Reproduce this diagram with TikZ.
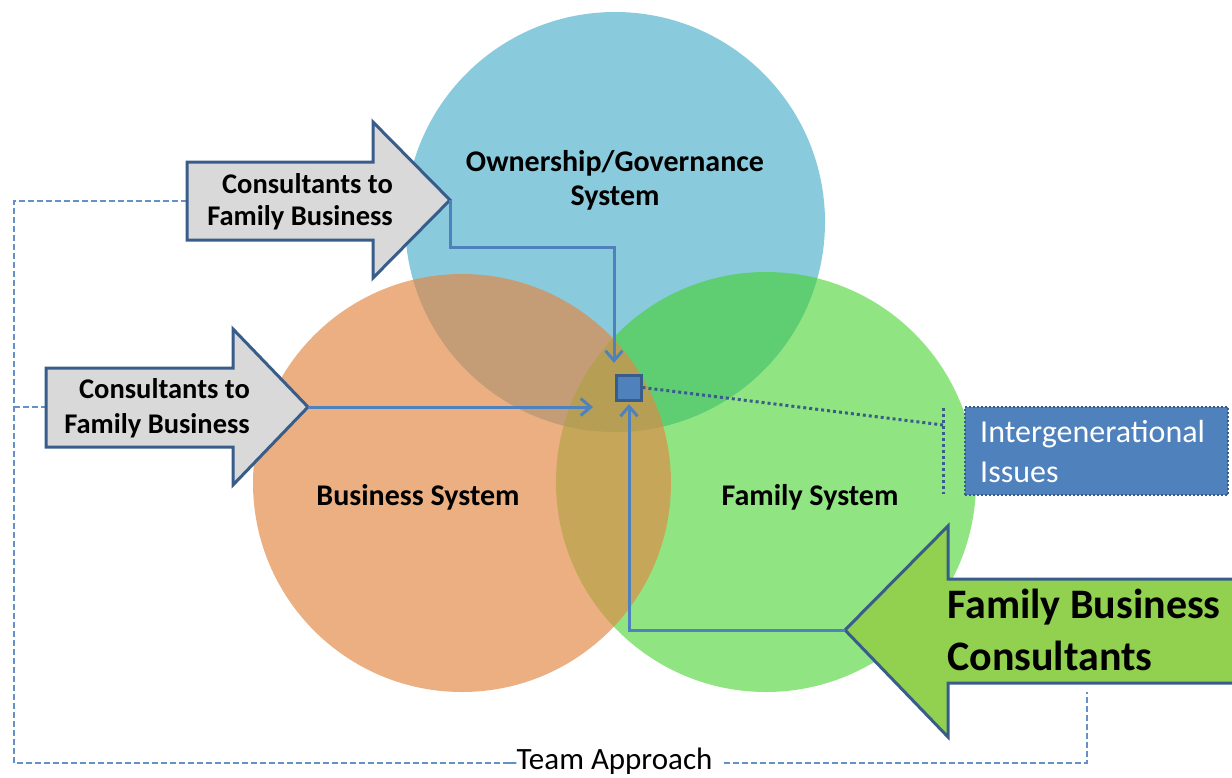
\documentclass[tikz,border=0pt]{standalone}
\usepackage{fontspec}
\setmainfont{Carlito}
\usetikzlibrary{arrows.meta}
\definecolor{cblue}{RGB}{137,202,220}
\definecolor{corange}{RGB}{225,136,69}
\definecolor{cgreen}{RGB}{65,209,40}
\definecolor{accent}{RGB}{79,129,189}
\definecolor{edge}{RGB}{56,93,138}
\definecolor{agray}{RGB}{217,217,217}
\definecolor{agreen}{RGB}{146,208,80}
\definecolor{teamc}{RGB}{100,145,200}
\tikzset{
  circlabel/.style={font=\bfseries\fontsize{30}{34}\selectfont, inner sep=0, anchor=base},
  graylabel/.style={font=\bfseries\fontsize{28.5}{32}\selectfont, inner sep=0, anchor=base east},
  biglabel/.style={font=\bfseries\fontsize{42}{50}\selectfont, inner sep=0, anchor=base west},
  boxlabel/.style={font=\fontsize{32}{38}\selectfont, text=white, inner sep=0, anchor=base west},
  arrowshape/.style={draw=edge, line width=3pt, line join=miter},
  conn/.style={draw=accent, line width=3pt, -{Straight Barb[length=10pt,width=17pt,line width=3pt]}},
  dotline/.style={draw=edge, line width=3pt, dash pattern=on 3pt off 3pt},
  team/.style={draw=teamc, line width=2pt, dash pattern=on 6pt off 3pt},
}
\begin{document}
\begin{tikzpicture}[x=1pt,y=-1pt]
\useasboundingbox (0,0) rectangle (1232,777);
% circles
\fill[cblue] (615,222) circle[radius=210pt];
\fill[cgreen, fill opacity=0.58] (766,482) circle[radius=210pt];
\fill[corange, fill opacity=0.67] (462,483) circle[radius=209pt];
% circle labels
\node[circlabel] (own1) at (615,171) {Ownership/Governance};
\node[circlabel] (own2) at (615,205) {System};
\node[circlabel] (bus) at (418,505) {Business System};
\node[circlabel] (fam) at (810,505) {Family System};
% team approach dashed frame
\node[font=\fontsize{31}{36}\selectfont, inner sep=0, anchor=base] (team) at (614.5,769) {Team Approach};
\coordinate (tl) at (14,201);
\coordinate (tm) at (14,407);
\coordinate (bl) at (14,763);
\coordinate (br) at (1087,763);
\coordinate (bt) at (1087,692);
\draw[team] (187,201) -- (tl) -- (bl) -- (team.west |- bl) -- ++(-7,0);
\draw[team] (tm) -- (46,407);
\draw[team] ([xshift=11pt]team.east |- br) -- (br) -- (bt);
% upper gray arrow
\coordinate (tip1) at (450,200);
\draw[arrowshape, fill=agray] (187,162) -- (373,162) -- (373,122) -- (tip1) -- (373,278) -- (373,240) -- (187,240) -- cycle;
\node[graylabel] (u1) at (393,193) {Consultants to};
\node[graylabel] (u2) at (393,225) {Family Business};
% lower gray arrow
\coordinate (tip2) at (308,407);
\draw[arrowshape, fill=agray] (46,368) -- (233,368) -- (233,329) -- (tip2) -- (233,485) -- (233,447) -- (46,447) -- cycle;
\node[graylabel] (l1) at (250,398) {Consultants to};
\node[graylabel] (l2) at (250,433) {Family Business};
% green arrow
\coordinate (tip3) at (845,630);
\draw[arrowshape, fill=agreen] (1245,579) -- (948,579) -- (948,526) -- (tip3) -- (948,737) -- (948,683) -- (1245,683);
\node[biglabel] (g1) at (947,618) {Family Business};
\node[biglabel] (g2) at (947,670) {Consultants};
% central square
\node[draw=edge, line width=3pt, fill=accent, minimum size=25pt, inner sep=0] (sq) at (628.5,387.5) {};
% connectors
\coordinate (e1) at (614,363);
\coordinate (e2) at (593,407);
\coordinate (e3) at (629,404);
\draw[conn] (tip1) -- ++(0,47) -| (e1);
\draw[conn] (tip2) -- (e2);
\draw[conn] (tip3) -| (e3);
% intergenerational issues
\node[draw=edge, line width=2pt, dash pattern=on 2pt off 2pt, fill=accent, minimum width=263pt, minimum height=88pt, inner sep=0] (ib) at (1096.5,451) {};
\node[boxlabel] (i1) at (980,442) {Intergenerational};
\node[boxlabel] (i2) at (980,482) {Issues};
\coordinate (d1) at (943,425);
\coordinate (d2) at (943,408);
\coordinate (d3) at (943,494);
\draw[dotline] (sq.east) -- (d1);
\draw[dotline] (d2) -- (d3);
\end{tikzpicture}
\end{document}
